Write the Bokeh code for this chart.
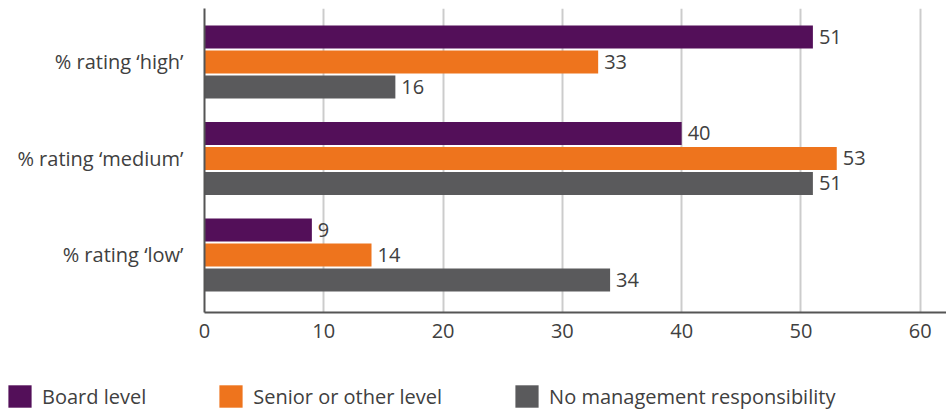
from bokeh.plotting import figure
from bokeh.models import (ColumnDataSource, Range1d, FixedTicker, LabelSet,
                          Legend, LegendItem)
from bokeh.layouts import column
from bokeh.transform import dodge
from bokeh.core.properties import value
from bokeh.embed import file_html
from bokeh.resources import INLINE

categories = ["% rating \u2018high\u2019", "% rating \u2018medium\u2019", "% rating \u2018low\u2019"]
cat_pos = [3, 2, 1]
board = [51, 40, 9]
senior = [33, 53, 14]
no_mgmt = [16, 51, 34]
series_names = ["Board level", "Senior or other level", "No management responsibility"]
colors = ["#530f59", "#ee741d", "#5a5a5c"]
x_ticks = [0, 10, 20, 30, 40, 50, 60]

FONT = "Open Sans"
TXT = "#404040"
FS = "20px"

src = ColumnDataSource(dict(y=cat_pos, board=board, senior=senior, no_mgmt=no_mgmt,
                            board_t=[str(v) for v in board],
                            senior_t=[str(v) for v in senior],
                            no_mgmt_t=[str(v) for v in no_mgmt]))

p = figure(width=946, height=350, output_backend="svg", toolbar_location=None,
           x_range=Range1d(0, 62.2), y_range=Range1d(0.404, 3.554),
           min_border_left=204, min_border_right=0, min_border_top=8,
           min_border_bottom=38)
p.frame_align = False
p.outline_line_color = None

offsets = [0.259, 0.0, -0.259]
keys = ["board", "senior", "no_mgmt"]
for k, off, c in zip(keys, offsets, colors):
    p.hbar(y=dodge("y", off), right=k, left=0, height=0.238, source=src,
           fill_color=c, line_color=None)
    lab = LabelSet(x=k, y=dodge("y", off), text=k + "_t", source=src,
                   x_offset=6, text_align="left", text_baseline="middle",
                   text_font=value(FONT), text_font_size=FS, text_color=TXT)
    p.add_layout(lab)

# axes
p.yaxis.ticker = FixedTicker(ticks=cat_pos)
p.yaxis.major_label_overrides = {pos: cat for pos, cat in zip(cat_pos, categories)}
p.yaxis.major_tick_line_color = None
p.yaxis.minor_tick_line_color = None
p.yaxis.axis_line_color = "#555555"
p.yaxis.axis_line_width = 2
p.yaxis.major_label_standoff = 15
p.yaxis.major_label_text_font = FONT
p.yaxis.major_label_text_font_size = FS
p.yaxis.major_label_text_color = TXT

p.xaxis.ticker = FixedTicker(ticks=x_ticks)
p.xaxis.major_tick_line_color = None
p.xaxis.minor_tick_line_color = None
p.xaxis.axis_line_color = "#555555"
p.xaxis.axis_line_width = 2
p.xaxis.major_label_standoff = 5
p.xaxis.major_label_text_font = FONT
p.xaxis.major_label_text_font_size = FS
p.xaxis.major_label_text_color = TXT

p.ygrid.grid_line_color = None
p.xgrid.ticker = FixedTicker(ticks=x_ticks[1:])
p.xgrid.grid_line_color = "#cccccc"
p.xgrid.grid_line_width = 2

# legend panel
lg = figure(width=946, height=62, output_backend="svg", toolbar_location=None,
            x_range=Range1d(0, 1), y_range=Range1d(0, 1),
            min_border=0)
lg.frame_align = False
lg.outline_line_color = None
lg.axis.visible = False
lg.grid.visible = False
nan = float("nan")
rs = [lg.rect(x=[nan], y=[nan], width=1, height=1, fill_color=c, line_color=None)
      for c in colors]
legend = Legend(items=[LegendItem(label=n, renderers=[r]) for n, r in zip(series_names, rs)],
                location=(5, 2), orientation="horizontal",
                glyph_width=29, glyph_height=28, label_standoff=8, spacing=70,
                padding=0, margin=0, border_line_color=None,
                background_fill_alpha=0, label_text_font=FONT,
                label_text_font_size=FS, label_text_color=TXT,
                label_height=28)
lg.add_layout(legend)

open("out.html", "w").write(file_html(column(p, lg, spacing=0), INLINE))
